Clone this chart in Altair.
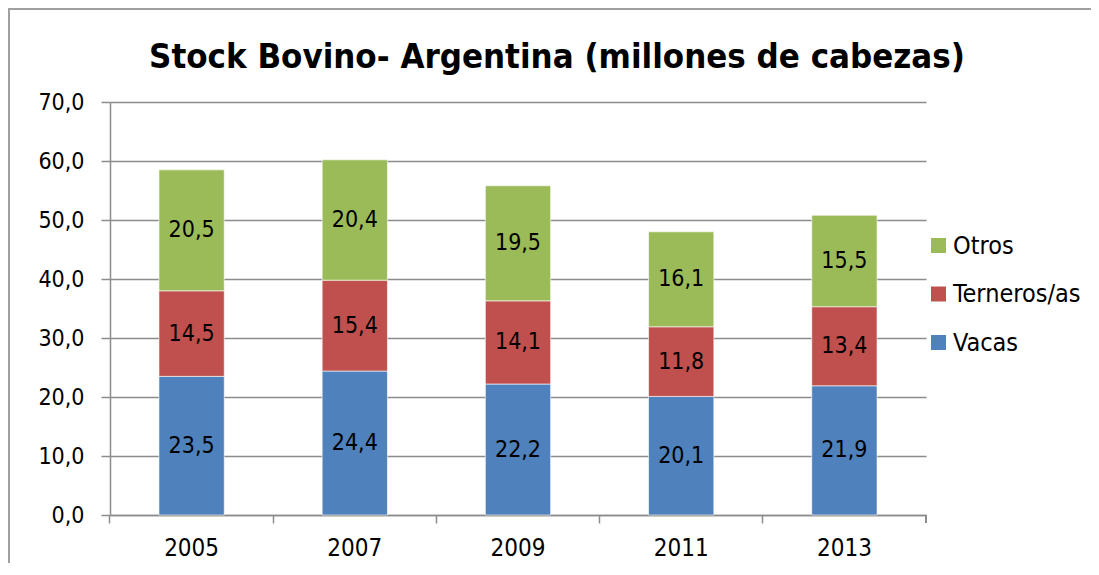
import altair as alt
import pandas as pd

title_text = "Stock Bovino- Argentina (millones de cabezas)"
years = ["2005", "2007", "2009", "2011", "2013"]
series = ["Vacas", "Terneros/as", "Otros"]
vacas = [23.5, 24.4, 22.2, 20.1, 21.9]
terneros = [14.5, 15.4, 14.1, 11.8, 13.4]
otros = [20.5, 20.4, 19.5, 16.1, 15.5]
colors = {"Otros": "#9BBB59", "Terneros/as": "#C0504D", "Vacas": "#4F81BD"}
y_ticks = [0, 10, 20, 30, 40, 50, 60, 70]

rows = []
for vals, name, order in [(vacas, "Vacas", 0), (terneros, "Terneros/as", 1), (otros, "Otros", 2)]:
    for yr, v in zip(years, vals):
        rows.append({"year": yr, "serie": name, "value": v, "ord": order})
df = pd.DataFrame(rows)

FONT = "DejaVu Sans Condensed, Liberation Sans Narrow, sans-serif"
W, H = 816, 413
GRAY = "#8C8C8C"

x_enc = alt.X(
    "year:N",
    title=None,
    scale=alt.Scale(paddingInner=0.6, paddingOuter=0.3),
    axis=alt.Axis(
        bandPosition=-0.75,
        labelAngle=0, labelFontSize=24, labelFont=FONT, labelColor="#000000",
        tickSize=8, tickColor=GRAY, tickWidth=1.5,
        domainColor=GRAY, domainWidth=1.5, labelPadding=13, grid=False,
    ),
)

bars = alt.Chart(df).mark_bar(stroke="#FFFFFF", strokeWidth=0.6).encode(
    x=x_enc,
    y=alt.Y(
        "value:Q",
        title=None,
        stack="zero",
        scale=alt.Scale(domain=[0, 70], nice=False),
        axis=alt.Axis(
            values=y_ticks,
            labelExpr="replace(format(datum.value, '.1f'), '.', ',')",
            labelFontSize=23, labelFont=FONT, labelColor="#000000",
            tickSize=9, tickColor=GRAY, tickWidth=1.5,
            domainColor=GRAY, domainWidth=1.5, labelPadding=17,
            gridColor=GRAY, gridWidth=1.5,
        ),
    ),
    color=alt.Color(
        "serie:N",
        scale=alt.Scale(domain=list(colors.keys()), range=list(colors.values())),
        legend=alt.Legend(
            title=None, orient="none", legendX=816, legendY=131,
            symbolType="square", symbolSize=225, symbolStrokeWidth=0,
            labelFontSize=25, labelFont=FONT, labelColor="#000000",
            rowPadding=22.5, labelOffset=2,
        ),
    ),
    order=alt.Order("ord:Q", sort="ascending"),
)

labels = alt.Chart(df).transform_stack(
    stack="value", groupby=["year"], as_=["y0", "y1"], sort=[alt.SortField("ord", order="ascending")]
).transform_calculate(
    mid="(datum.y0 + datum.y1) / 2",
    txt="replace(format(datum.value, '.1f'), '.', ',')",
).mark_text(fontSize=23, font=FONT, color="#000000", baseline="middle").encode(
    x=alt.X("year:N"),
    y=alt.Y("mid:Q"),
    text="txt:N",
)

# extra tick at the right end of the category axis
end_tick = alt.Chart(df).mark_rule(color=GRAY, strokeWidth=1.5, clip=False).encode(
    x=alt.value(W), y=alt.value(H), y2=alt.value(H + 8)
)

title = alt.Chart(pd.DataFrame({"t": [title_text]})).mark_text(
    font=FONT, fontSize=34.5, fontWeight="bold", color="#000000",
    align="center", baseline="alphabetic", clip=False,
).encode(x=alt.value(W / 2 + 39), y=alt.value(-34), text="t:N")

frame_left = alt.Chart(df).mark_rule(color="#A0A0A0", strokeWidth=2, clip=False).encode(
    x=alt.value(-101), y=alt.value(-94), y2=alt.value(H + 60)
)
frame_top = alt.Chart(df).mark_rule(color="#A0A0A0", strokeWidth=2, clip=False).encode(
    y=alt.value(-93), x=alt.value(-101), x2=alt.value(W + 170)
)

chart = alt.layer(bars, labels, end_tick, title, frame_left, frame_top).properties(
    width=W,
    height=H,
    autosize=alt.AutoSizeParams(type="none"),
    padding={"left": 102, "top": 94, "right": 165, "bottom": 48},
).configure_view(stroke=None).configure_axis(gridColor=GRAY)

chart.save("out.html", embed_options={"renderer": "svg", "actions": False})
